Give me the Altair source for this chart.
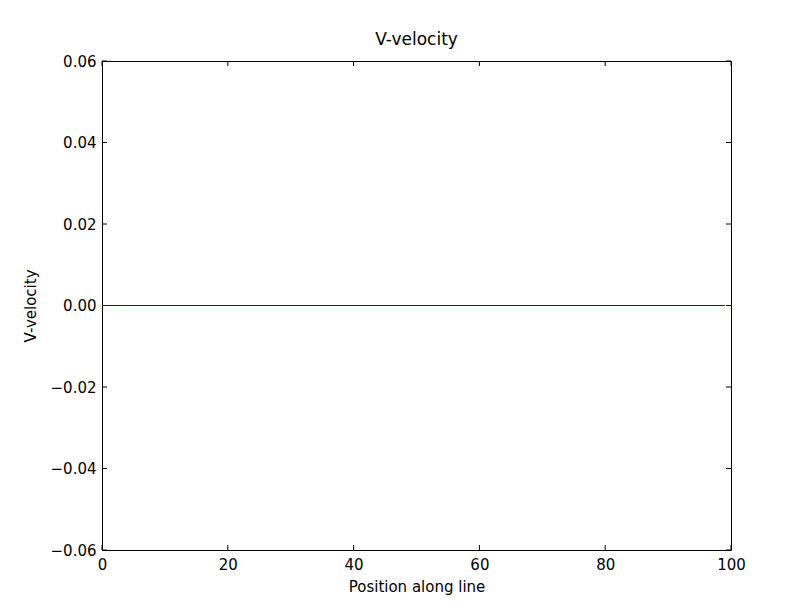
import altair as alt
import pandas as pd

positions = list(range(100))
v_velocity = [0.0] * 100
x_ticks = [0, 20, 40, 60, 80, 100]
y_ticks = [-0.06, -0.04, -0.02, 0.0, 0.02, 0.04, 0.06]

FONT = "DejaVu Sans"
W, H = 629, 489
TL = 5

df = pd.DataFrame({"pos": positions, "v": v_velocity})
xs = alt.Scale(domain=[0, 100], nice=False)
ys = alt.Scale(domain=[-0.06, 0.06], nice=False)

line = alt.Chart(df).mark_line(color="#0000ff", strokeWidth=1.2).encode(
    x=alt.X("pos:Q", scale=xs, title="Position along line",
            axis=alt.Axis(values=x_ticks, tickSize=0, labelPadding=7, domain=False, grid=False,
                          labelFlush=False, labelFont=FONT, labelFontSize=15, labelColor="black",
                          titleFont=FONT, titleFontSize=15, titleFontWeight="normal",
                          titleColor="black", titlePadding=7)),
    y=alt.Y("v:Q", scale=ys, title="V-velocity",
            axis=alt.Axis(values=y_ticks, format=".2f", tickSize=0, labelPadding=6, domain=False,
                          grid=False, labelFlush=False, labelFont=FONT, labelFontSize=15,
                          labelColor="black", titleFont=FONT, titleFontSize=15,
                          titleFontWeight="normal", titleColor="black", titlePadding=12)),
)

xt = pd.DataFrame({"t": x_ticks})
yt = pd.DataFrame({"t": y_ticks})
xb = alt.Chart(xt).mark_rule(color="black").encode(x=alt.X("t:Q", scale=xs), y=alt.value(H), y2=alt.value(H - TL))
xtp = alt.Chart(xt).mark_rule(color="black").encode(x=alt.X("t:Q", scale=xs), y=alt.value(0), y2=alt.value(TL))
yl = alt.Chart(yt).mark_rule(color="black").encode(y=alt.Y("t:Q", scale=ys), x=alt.value(0), x2=alt.value(TL))
yr = alt.Chart(yt).mark_rule(color="black").encode(y=alt.Y("t:Q", scale=ys), x=alt.value(W), x2=alt.value(W - TL))

chart = alt.layer(xb, xtp, yl, yr, line).properties(
    width=W, height=H,
    background="white",
    title=alt.TitleParams("V-velocity", font=FONT, fontSize=17, fontWeight="normal", color="black", offset=5),
    autosize="none",
    padding={"left": 94, "top": 53, "right": 60, "bottom": 50},
).configure_view(stroke="black", strokeWidth=1)

chart.save("out.html", embed_options={"renderer": "svg", "actions": False})
